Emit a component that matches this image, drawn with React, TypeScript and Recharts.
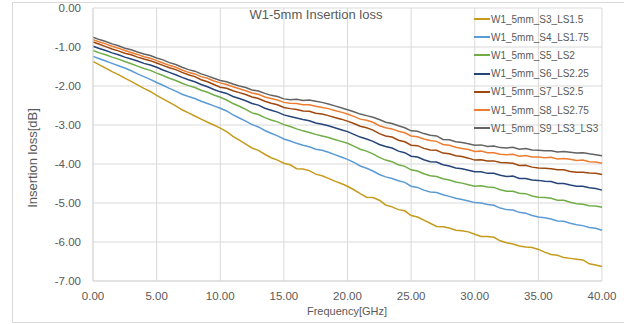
import { CartesianGrid, Line, LineChart, XAxis, YAxis } from "recharts";

const freq = [
  0, 0.5, 1, 1.5, 2, 2.5, 3, 3.5, 4, 4.5, 5, 5.5, 6, 6.5, 7, 7.5, 8, 8.5, 9, 9.5,
  10, 10.5, 11, 11.5, 12, 12.5, 13, 13.5, 14, 14.5, 15, 15.5, 16, 16.5, 17, 17.5, 18, 18.5, 19, 19.5,
  20, 20.5, 21, 21.5, 22, 22.5, 23, 23.5, 24, 24.5, 25, 25.5, 26, 26.5, 27, 27.5, 28, 28.5, 29, 29.5,
  30, 30.5, 31, 31.5, 32, 32.5, 33, 33.5, 34, 34.5, 35, 35.5, 36, 36.5, 37, 37.5, 38, 38.5, 39, 39.5,
  40,
];

const s3 = [
  -1.37, -1.46, -1.54, -1.63, -1.71, -1.8, -1.88, -1.97, -2.06, -2.14, -2.24, -2.33, -2.42, -2.51, -2.61, -2.69, -2.77, -2.85, -2.93, -3.0,
  -3.08, -3.17, -3.29, -3.39, -3.49, -3.59, -3.65, -3.75, -3.84, -3.9, -3.98, -4.02, -4.12, -4.13, -4.17, -4.26, -4.3, -4.37, -4.44, -4.5,
  -4.57, -4.66, -4.76, -4.85, -4.86, -4.93, -5.05, -5.1, -5.17, -5.2, -5.32, -5.36, -5.44, -5.52, -5.6, -5.61, -5.64, -5.7, -5.71, -5.74,
  -5.8, -5.86, -5.86, -5.88, -5.97, -6.02, -6.05, -6.1, -6.13, -6.14, -6.19, -6.26, -6.32, -6.34, -6.4, -6.42, -6.44, -6.46, -6.56, -6.59,
  -6.63,
];
const s4 = [
  -1.24, -1.3, -1.36, -1.42, -1.48, -1.54, -1.61, -1.69, -1.76, -1.83, -1.91, -1.98, -2.06, -2.13, -2.21, -2.27, -2.32, -2.39, -2.45, -2.51,
  -2.57, -2.64, -2.74, -2.82, -2.9, -2.99, -3.05, -3.14, -3.21, -3.28, -3.36, -3.41, -3.47, -3.52, -3.56, -3.62, -3.65, -3.7, -3.76, -3.82,
  -3.88, -3.96, -4.05, -4.11, -4.18, -4.27, -4.33, -4.37, -4.43, -4.47, -4.57, -4.6, -4.67, -4.72, -4.73, -4.79, -4.83, -4.88, -4.91, -4.95,
  -4.99, -5.0, -5.04, -5.06, -5.13, -5.17, -5.18, -5.24, -5.26, -5.32, -5.36, -5.38, -5.41, -5.46, -5.47, -5.52, -5.56, -5.58, -5.63, -5.65,
  -5.7,
];
const s5 = [
  -1.09, -1.15, -1.2, -1.26, -1.31, -1.37, -1.43, -1.49, -1.55, -1.6, -1.67, -1.73, -1.8, -1.86, -1.93, -1.99, -2.04, -2.11, -2.16, -2.23,
  -2.29, -2.36, -2.45, -2.52, -2.6, -2.69, -2.73, -2.81, -2.87, -2.92, -2.99, -3.04, -3.1, -3.15, -3.19, -3.24, -3.28, -3.32, -3.37, -3.42,
  -3.47, -3.54, -3.62, -3.67, -3.74, -3.83, -3.9, -3.94, -4.02, -4.06, -4.15, -4.18, -4.25, -4.3, -4.32, -4.38, -4.41, -4.46, -4.49, -4.53,
  -4.57, -4.56, -4.59, -4.6, -4.66, -4.7, -4.7, -4.75, -4.76, -4.82, -4.85, -4.86, -4.88, -4.93, -4.93, -4.98, -5.02, -5.03, -5.07, -5.08,
  -5.11,
];
const s6 = [
  -0.98, -1.04, -1.09, -1.15, -1.2, -1.26, -1.31, -1.36, -1.42, -1.46, -1.52, -1.59, -1.65, -1.71, -1.78, -1.84, -1.89, -1.96, -2.02, -2.09,
  -2.15, -2.19, -2.27, -2.32, -2.38, -2.45, -2.49, -2.57, -2.62, -2.67, -2.74, -2.78, -2.82, -2.86, -2.89, -2.95, -2.98, -3.02, -3.07, -3.12,
  -3.17, -3.24, -3.31, -3.36, -3.42, -3.5, -3.55, -3.59, -3.67, -3.71, -3.8, -3.82, -3.89, -3.94, -3.95, -4.02, -4.05, -4.1, -4.12, -4.16,
  -4.2, -4.2, -4.24, -4.24, -4.29, -4.32, -4.31, -4.37, -4.37, -4.41, -4.42, -4.44, -4.45, -4.5, -4.5, -4.54, -4.57, -4.57, -4.61, -4.63,
  -4.67,
];
const s7 = [
  -0.87, -0.93, -0.99, -1.05, -1.1, -1.16, -1.2, -1.26, -1.31, -1.35, -1.41, -1.47, -1.53, -1.58, -1.65, -1.71, -1.76, -1.84, -1.89, -1.96,
  -2.03, -2.06, -2.12, -2.17, -2.22, -2.28, -2.32, -2.39, -2.44, -2.48, -2.55, -2.58, -2.6, -2.64, -2.65, -2.7, -2.72, -2.76, -2.81, -2.85,
  -2.9, -2.96, -3.03, -3.07, -3.13, -3.22, -3.28, -3.31, -3.39, -3.43, -3.52, -3.53, -3.6, -3.64, -3.65, -3.72, -3.74, -3.79, -3.81, -3.85,
  -3.9, -3.89, -3.92, -3.92, -3.96, -3.97, -3.98, -4.04, -4.03, -4.08, -4.1, -4.11, -4.12, -4.15, -4.15, -4.19, -4.21, -4.21, -4.23, -4.24,
  -4.27,
];
const s8 = [
  -0.81, -0.87, -0.92, -0.98, -1.03, -1.09, -1.14, -1.19, -1.25, -1.29, -1.35, -1.41, -1.47, -1.52, -1.59, -1.65, -1.69, -1.76, -1.8, -1.87,
  -1.92, -1.96, -2.02, -2.07, -2.12, -2.18, -2.21, -2.28, -2.32, -2.36, -2.42, -2.44, -2.45, -2.48, -2.48, -2.52, -2.55, -2.58, -2.63, -2.67,
  -2.72, -2.78, -2.85, -2.88, -2.93, -3.02, -3.07, -3.1, -3.16, -3.2, -3.28, -3.3, -3.36, -3.4, -3.42, -3.5, -3.52, -3.57, -3.6, -3.63,
  -3.68, -3.67, -3.71, -3.71, -3.75, -3.76, -3.75, -3.8, -3.78, -3.82, -3.82, -3.84, -3.83, -3.87, -3.86, -3.88, -3.91, -3.9, -3.94, -3.95,
  -3.98,
];
const s9 = [
  -0.75, -0.81, -0.86, -0.92, -0.97, -1.03, -1.07, -1.13, -1.18, -1.22, -1.28, -1.33, -1.4, -1.45, -1.52, -1.58, -1.62, -1.69, -1.74, -1.8,
  -1.86, -1.89, -1.95, -2.0, -2.04, -2.1, -2.13, -2.19, -2.24, -2.27, -2.33, -2.35, -2.34, -2.37, -2.36, -2.39, -2.42, -2.46, -2.51, -2.56,
  -2.61, -2.66, -2.72, -2.76, -2.8, -2.86, -2.93, -2.96, -3.02, -3.07, -3.15, -3.16, -3.22, -3.26, -3.28, -3.37, -3.38, -3.43, -3.45, -3.48,
  -3.52, -3.51, -3.55, -3.54, -3.58, -3.59, -3.57, -3.62, -3.6, -3.64, -3.65, -3.66, -3.66, -3.69, -3.68, -3.7, -3.72, -3.71, -3.74, -3.76,
  -3.79,
];

const xTicks = [0, 5, 10, 15, 20, 25, 30, 35, 40];
const yTicks = [0, -1, -2, -3, -4, -5, -6, -7];

const seriesNames = [
  "W1_5mm_S3_LS1.5",
  "W1_5mm_S4_LS1.75",
  "W1_5mm_S5_LS2",
  "W1_5mm_S6_LS2.25",
  "W1_5mm_S7_LS2.5",
  "W1_5mm_S8_LS2.75",
  "W1_5mm_S9_LS3_LS3",
];
const seriesColors = ["#C59B1C", "#5B9BD5", "#70AD47", "#264478", "#9E480E", "#ED7D31", "#636363"];
const seriesKeys = ["s3", "s4", "s5", "s6", "s7", "s8", "s9"];
const values = [s3, s4, s5, s6, s7, s8, s9];

const data = freq.map((f, i) => {
  const row: Record<string, number> = { f };
  seriesKeys.forEach((k, j) => {
    row[k] = values[j][i];
  });
  return row;
});

const font = "'Liberation Sans', Arial, sans-serif";
const grey = "#595959";

export default function App() {
  return (
    <div
      style={{
        position: "absolute",
        left: 0,
        top: 0,
        width: 624,
        height: 324,
        background: "#fff",
        fontFamily: font,
        overflow: "hidden",
      }}
    >
      <div
        style={{
          position: "absolute",
          left: 12,
          top: 2,
          width: 640,
          height: 319,
          border: "1px solid #D9D9D9",
        }}
      />
      <LineChart
        width={624}
        height={324}
        data={data}
        margin={{ top: 8, right: 22, bottom: 0, left: 33 }}
        style={{ position: "absolute", left: 0, top: 0 }}
      >
        <CartesianGrid stroke="#D9D9D9" strokeWidth={1} />
        <XAxis
          dataKey="f"
          type="number"
          domain={[0, 40]}
          ticks={xTicks}
          height={43}
          tickLine={false}
          axisLine={{ stroke: "#D9D9D9" }}
          tickSize={0}
          tickMargin={11}
          tickFormatter={(v: number) => v.toFixed(2)}
          tick={{ fill: grey, fontSize: 11.5, fontFamily: font }}
        />
        <YAxis
          type="number"
          domain={[-7, 0]}
          ticks={yTicks}
          width={60}
          tickLine={false}
          axisLine={{ stroke: "#D9D9D9" }}
          tickSize={0}
          tickMargin={12}
          tickFormatter={(v: number) => v.toFixed(2)}
          tick={{ fill: grey, fontSize: 11.5, fontFamily: font }}
        />
        {seriesKeys.map((k, j) => (
          <Line
            key={k}
            dataKey={k}
            name={seriesNames[j]}
            stroke={seriesColors[j]}
            strokeWidth={1.5}
            dot={false}
            type="linear"
            isAnimationActive={false}
          />
        ))}
      </LineChart>
      <div
        style={{
          position: "absolute",
          left: 216,
          top: 7,
          width: 200,
          textAlign: "center",
          fontSize: 13,
          color: grey,
        }}
      >
        W1-5mm Insertion loss
      </div>
      <div
        style={{
          position: "absolute",
          left: 247,
          top: 305,
          width: 200,
          textAlign: "center",
          fontSize: 11,
          color: grey,
        }}
      >
        Frequency[GHz]
      </div>
      <div
        style={{
          position: "absolute",
          left: 33 - 70,
          top: 158 - 9,
          width: 140,
          textAlign: "center",
          fontSize: 13,
          lineHeight: "18px",
          color: grey,
          transform: "rotate(-90deg)",
        }}
      >
        Insertion loss[dB]
      </div>
      <div style={{ position: "absolute", left: 474, top: 10 }}>
        {seriesNames.map((n, j) => (
          <div
            key={n}
            style={{ display: "flex", alignItems: "center", height: 18.2, fontSize: 10, color: grey }}
          >
            <span
              style={{ display: "inline-block", width: 16, height: 2, background: seriesColors[j], marginRight: 1 }}
            />
            {n}
          </div>
        ))}
      </div>
    </div>
  );
}
